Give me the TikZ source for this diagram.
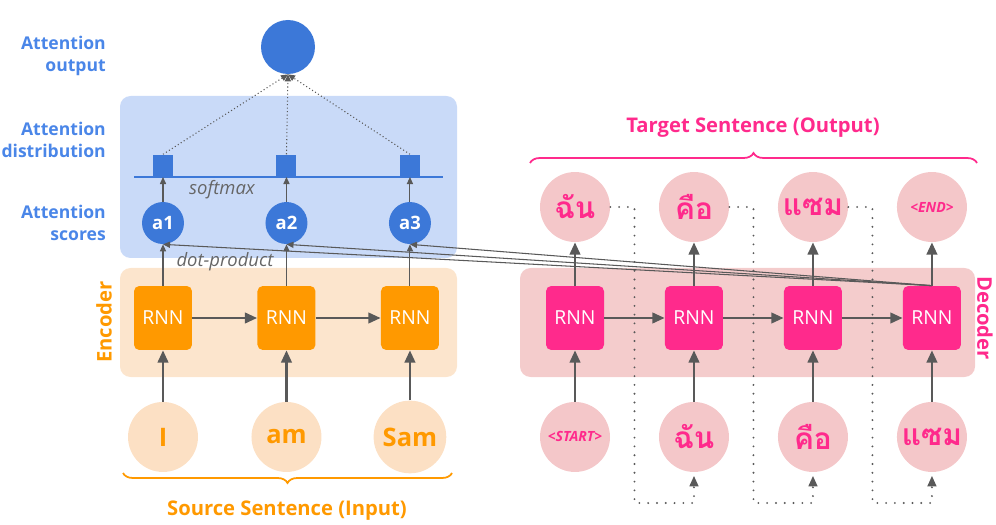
\documentclass[tikz,border=0pt]{standalone}
\usepackage{fontspec}
\setmainfont{Open Sans}
\newfontfamily\thaifont[Script=Thai]{Loma}
\usetikzlibrary{arrows.meta,calc,decorations.pathreplacing}

\definecolor{attblue}{HTML}{3C78D8}
\definecolor{attlabel}{HTML}{4A86E8}
\definecolor{attbg}{HTML}{C9DAF8}
\definecolor{encorange}{HTML}{FF9900}
\definecolor{encbg}{HTML}{FCE5CD}
\definecolor{encword}{HTML}{FCE0C4}
\definecolor{decpink}{HTML}{FF2A8C}
\definecolor{decbg}{HTML}{F4CCCC}
\definecolor{decword}{HTML}{F4C7C9}
\definecolor{arrowgray}{HTML}{595959}
\definecolor{notegray}{HTML}{666666}

\tikzset{
	>={Triangle[length=7pt,width=6pt]},
	rnnbox/.style={rectangle, rounded corners=3pt, minimum width=1.16cm,
		minimum height=1.28cm, text=white, font=\fontsize{11}{13}\selectfont},
	encrnn/.style={rnnbox, fill=encorange},
	decrnn/.style={rnnbox, fill=decpink},
	encword/.style={circle, fill=encword, minimum size=1.4cm, text=encorange,
		font=\fontsize{14.5}{16}\selectfont\bfseries},
	decword/.style={circle, fill=decword, minimum size=1.4cm, inner sep=1pt, text=decpink,
		font=\fontsize{17}{19}\selectfont\thaifont\bfseries},
	tagword/.style={decword, font=\fontsize{8}{10}\selectfont\bfseries\itshape},
	score/.style={circle, fill=attblue, minimum size=0.84cm, text=white,
		font=\fontsize{10.5}{12}\selectfont\bfseries},
	attbar/.style={rectangle, fill=attblue, minimum width=0.4cm, minimum height=0.44cm,
		inner sep=0pt, anchor=south},
	sidelabel/.style={anchor=east, align=right, text=attlabel,
		font=\fontsize{10}{12.5}\selectfont\bfseries},
	note/.style={text=notegray, font=\fontsize{10.5}{12}\selectfont\itshape},
	flow/.style={->, draw=arrowgray, line width=1.4pt},
	thinflow/.style={-{Triangle[length=4pt,width=3.5pt]}, draw=arrowgray, line width=0.6pt},
	attlink/.style={-{Triangle[length=4pt,width=3.5pt]}, draw=arrowgray, line width=0.6pt,
		dash pattern=on 0.6pt off 1.4pt},
	feedback/.style={-{Triangle[length=6pt,width=5pt]}, draw=arrowgray, line width=1.2pt,
		line cap=round, dash pattern=on 0pt off 5pt, shorten >=2pt},
}

\begin{document}
\begin{tikzpicture}[x=0.02cm, y=0.02cm]
	\useasboundingbox (0,0) rectangle (996,524);

	% panels behind the layers
	\fill[attbg, rounded corners=6pt] (120,266) rectangle (457,428);
	\fill[encbg, rounded corners=6pt] (120,147) rectangle (457,256);
	\fill[decbg, rounded corners=6pt] (520,147) rectangle (975,256);

	% encoder
	\node[encrnn] (e1) at (163,206) {RNN};
	\node[encrnn, right of=e1, node distance=2.47cm] (e2) {RNN};
	\node[encrnn, right of=e2, node distance=2.47cm] (e3) {RNN};
	\node[encword, below of=e1, node distance=2.38cm] (w1) {I};
	\node[encword, below of=e2, node distance=2.38cm] (w2) {am};
	\node[encword, below of=e3, node distance=2.38cm] (w3) {Sam};

	% attention
	\node[score, above of=e1, node distance=1.9cm] (a1) {a1};
	\node[score, above of=e2, node distance=1.9cm] (a2) {a2};
	\node[score, above of=e3, node distance=1.9cm] (a3) {a3};
	\coordinate (barl) at (134,347);
	\coordinate (barr) at (443,347);
	\draw[attblue, line width=1.2pt] (barl) -- (barr);
	\node[attbar] (p1) at (a1 |- barl) {};
	\node[attbar] (p2) at (a2 |- barl) {};
	\node[attbar] (p3) at (a3 |- barl) {};
	\node[circle, fill=attblue, minimum size=1.08cm] (out) at (288,477) {};

	\node[sidelabel] (outlabel) at (112,468) {Attention\\output};
	\node[sidelabel] (distlabel) at (112,384) {Attention\\distribution};
	\node[sidelabel] (scorelabel) at (112,301) {Attention\\scores};
	\node[note] (softmax) at (222,334) {softmax};
	\node[note] (dotprod) at (225,262) {dot-product};

	% decoder
	\node[decrnn] (d1) at (575,206) {RNN};
	\node[decrnn, right of=d1, node distance=2.38cm] (d2) {RNN};
	\node[decrnn, right of=d2, node distance=2.38cm] (d3) {RNN};
	\node[decrnn, right of=d3, node distance=2.38cm] (d4) {RNN};
	\node[tagword, below of=d1, node distance=2.38cm] (i1) {<START>};
	\node[decword, below of=d2, node distance=2.38cm] (i2) {ฉัน};
	\node[decword, below of=d3, node distance=2.38cm] (i3) {คือ};
	\node[decword, below of=d4, node distance=2.38cm] (i4) {แซม};
	\node[decword, above of=d1, node distance=2.22cm] (o1) {ฉัน};
	\node[decword, above of=d2, node distance=2.22cm] (o2) {คือ};
	\node[decword, above of=d3, node distance=2.22cm] (o3) {แซม};
	\node[tagword, above of=d4, node distance=2.22cm] (o4) {<END>};

	% side names and braces
	\node[rotate=90, text=encorange, font=\fontsize{11.5}{13}\selectfont\bfseries] (enclabel) at (104,202) {Encoder};
	\node[rotate=-90, inner sep=0pt, text=decpink, font=\fontsize{11.5}{13}\selectfont\bfseries] (declabel) at (985,206) {Decoder};
	\draw[encorange, line width=1pt, decorate, decoration={brace, mirror, amplitude=0.2cm}]
		(123,51) -- (452,51);
	\node[text=encorange, font=\fontsize{11.5}{13}\selectfont\bfseries] (srclabel) at (287,13) {Source Sentence (Input)};
	\draw[decpink, line width=1pt, decorate, decoration={brace, amplitude=0.2cm}]
		(530,361) -- (977,361);
	\node[text=decpink, font=\fontsize{11.5}{13}\selectfont\bfseries] (tgtlabel) at (753,396) {Target Sentence (Output)};

	% encoder arrows
	\draw[flow] (w1) -- (e1);
	\draw[flow] (w2) -- (e2);
	\draw[flow] (w3) -- (e3);
	\draw[flow] (e1) -- (e2);
	\draw[flow] (e2) -- (e3);

	% scores, softmax and weighted sum
	\draw[thinflow] (e1.north) -- (a1.south);
	\draw[thinflow] (e2.north) -- (a2.south);
	\draw[thinflow] (e3.north) -- (a3.south);
	\draw[thinflow] (d4.north) -- (a1.south);
	\draw[thinflow] (d4.north) -- (a2.south);
	\draw[thinflow] (d4.north) -- (a3.south);
	\draw[thinflow] (a1.north) -- (a1 |- barl);
	\draw[thinflow] (a2.north) -- (a2 |- barl);
	\draw[thinflow] (a3.north) -- (a3 |- barl);
	\draw[attlink] (p1.north) -- (out.south);
	\draw[attlink] (p2.north) -- (out.south);
	\draw[attlink] (p3.north) -- (out.south);

	% decoder arrows
	\draw[flow] (i1) -- (d1);
	\draw[flow] (i2) -- (d2);
	\draw[flow] (i3) -- (d3);
	\draw[flow] (i4) -- (d4);
	\draw[flow] (d1) -- (o1);
	\draw[flow] (d2) -- (o2);
	\draw[flow] (d3) -- (o3);
	\draw[flow] (d4) -- (o4);
	\draw[flow] (d1) -- (d2);
	\draw[flow] (d2) -- (d3);
	\draw[flow] (d3) -- (d4);

	% each output word is fed back as the next input
	\coordinate (low) at (0,21);
	\coordinate (m1) at ($(d1)!0.5!(d2)$);
	\coordinate (m2) at ($(d2)!0.5!(d3)$);
	\coordinate (m3) at ($(d3)!0.5!(d4)$);
	\draw[feedback] (o1.east) -- (m1 |- o1) -- (m1 |- low) -- (i2 |- low) -- (i2.south);
	\draw[feedback] (o2.east) -- (m2 |- o2) -- (m2 |- low) -- (i3 |- low) -- (i3.south);
	\draw[feedback] (o3.east) -- (m3 |- o3) -- (m3 |- low) -- (i4 |- low) -- (i4.south);
\end{tikzpicture}
\end{document}
